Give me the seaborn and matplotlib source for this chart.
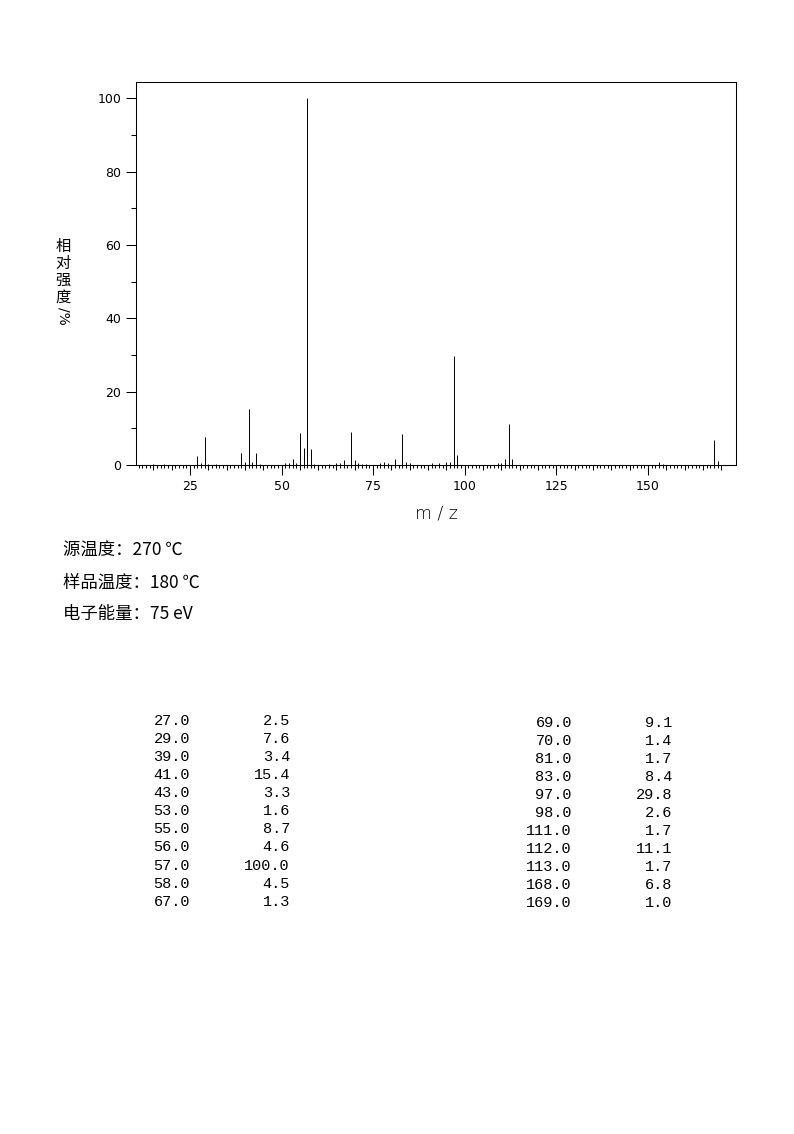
import matplotlib
matplotlib.use('Agg')
import matplotlib.pyplot as plt
from matplotlib.ticker import FixedLocator, NullLocator
import pandas as pd
import seaborn as sns

# peaks listed in the table (m/z, relative intensity %)
mz_listed = [27, 29, 39, 41, 43, 53, 55, 56, 57, 58, 67,
             69, 70, 81, 83, 97, 98, 111, 112, 113, 168, 169]
int_listed = [2.5, 7.6, 3.4, 15.4, 3.3, 1.6, 8.7, 4.6, 100.0, 4.5, 1.3,
              9.1, 1.4, 1.7, 8.4, 29.8, 2.6, 1.7, 11.1, 1.7, 6.8, 1.0]

# small peaks only visible in the spectrum (estimated)
mz_small = [15, 18, 28, 30, 32, 40, 42, 44, 51, 52, 54, 59, 63, 65, 66,
            71, 72, 73, 77, 78, 79, 84, 85, 91, 93, 95, 96, 109, 110, 153, 154]
int_small = [0.4, 0.4, 0.5, 0.4, 0.4, 0.7, 0.8, 0.3, 0.5, 0.6, 0.5, 0.3, 0.3, 0.5, 0.5,
             0.5, 0.4, 0.4, 0.6, 0.7, 0.6, 0.9, 0.6, 0.6, 0.5, 0.9, 0.9, 0.6, 0.5, 0.8, 0.4]

info_lines = ['源温度：270 ℃', '样品温度：180 ℃', '电子能量：75 eV']
ylabel_chars = ['相', '对', '强', '度']

sns.set_theme(style='ticks', rc={
    'axes.edgecolor': 'black', 'axes.linewidth': 0.75,
    'xtick.color': 'black', 'ytick.color': 'black',
    'text.color': 'black', 'axes.labelcolor': 'black',
})
plt.rcParams['font.family'] = ['DejaVu Sans', 'Noto Sans CJK SC']

W, H = 794, 1134
fig = plt.figure(figsize=(W / 100, H / 100), dpi=100)
ax = fig.add_axes([136 / W, 1 - 465 / H, 600 / W, 383 / H])

df = pd.DataFrame({'mz': mz_listed + mz_small, 'intensity': int_listed + int_small})
ax.vlines(df['mz'], 0, df['intensity'], color='black', lw=0.7)

ax.set_xlim(10.3, 174)
ax.set_ylim(0, 104.5)
ax.xaxis.set_major_locator(FixedLocator([25, 50, 75, 100, 125, 150]))
ax.xaxis.set_minor_locator(FixedLocator(list(range(10, 171))))
ax.yaxis.set_major_locator(FixedLocator(list(range(0, 101, 20))))
ax.yaxis.set_minor_locator(FixedLocator(list(range(10, 100, 20))))
ax.tick_params(axis='x', which='major', length=7.2, width=0.75, pad=3.5, labelsize=9)
ax.tick_params(axis='x', which='minor', length=2.2, width=0.75)
ax.tick_params(axis='y', which='major', length=7.2, width=0.75, pad=3.5, labelsize=9)
ax.tick_params(axis='y', which='minor', length=3.6, width=0.75)

# medium ticks every 5 units
sec = ax.secondary_xaxis('bottom')
sec.set_xticks(list(range(10, 171, 5)))
sec.xaxis.set_minor_locator(NullLocator())
sec.tick_params(length=3.6, width=0.75, labelbottom=False)

fig.text(436 / W, 1 - 514 / H, 'm / z', ha='center', va='center', fontsize=12.5,
         fontweight='light')

# vertical y label
for i, ch in enumerate(ylabel_chars):
    fig.text(63 / W, 1 - (246 + 17 * i) / H, ch, ha='center', va='center',
             fontsize=11, family=['Noto Sans CJK SC'])
fig.text(63 / W, 1 - 316 / H, '/%', ha='center', va='center', rotation=-90, fontsize=10)

for i, line in enumerate(info_lines):
    fig.text(63 / W, 1 - (551 + 31.5 * i) / H, line, ha='left', va='center',
             fontsize=12.5, family=['Noto Sans CJK SC', 'DejaVu Sans'])

# peak table
for i in range(11):
    y = 1 - (720.7 + 18.1 * i) / H
    fig.text(190 / W, y, f'{mz_listed[i]:.1f}', ha='right', va='center', family='Liberation Mono', fontsize=11)
    fig.text(290 / W, y, f'{int_listed[i]:.1f}', ha='right', va='center', family='Liberation Mono', fontsize=11)
for i in range(11, 22):
    y = 1 - (723.3 + 18 * (i - 11)) / H
    fig.text(572 / W, y, f'{mz_listed[i]:.1f}', ha='right', va='center', family='Liberation Mono', fontsize=11)
    fig.text(672 / W, y, f'{int_listed[i]:.1f}', ha='right', va='center', family='Liberation Mono', fontsize=11)

fig.savefig('out.png', dpi=100)
